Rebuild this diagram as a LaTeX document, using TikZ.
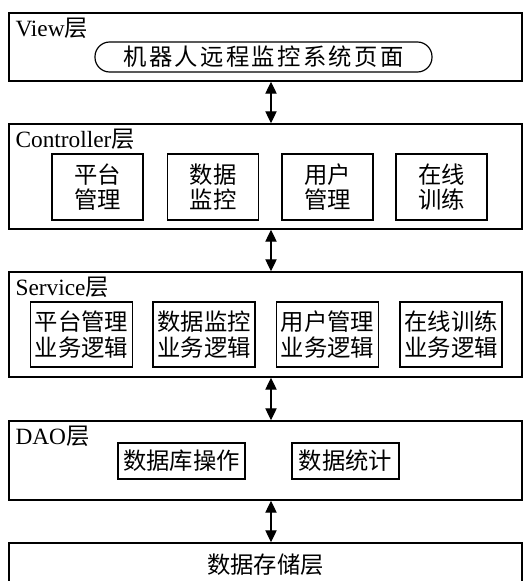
\documentclass[tikz,border=0pt]{standalone}
\usepackage{fontspec}
\setmainfont{Liberation Serif}
\newfontfamily\cjk{Noto Sans CJK SC}
\newfontfamily\cjkwide[LetterSpace=10]{Noto Sans CJK SC}
\usetikzlibrary{arrows.meta,positioning,calc}
\newcommand{\zh}[1]{{\cjk #1}}
\tikzset{
  layer/.style={draw=black,line width=1.1pt,minimum width=384.75pt,inner sep=0pt},
  part/.style={draw=black,line width=0.9pt,align=center,inner sep=0pt,font=\fontsize{17.5}{19}\selectfont\cjk},
  tag/.style={anchor=base west,inner sep=0pt,font=\fontsize{17.5}{21}\selectfont},
  link/.style={{Triangle[length=9pt,width=8.5pt]}-{Triangle[length=9pt,width=8.5pt]},line width=0.9pt}
}
\begin{document}
\begin{tikzpicture}[x=0.75pt,y=-0.75pt]
\useasboundingbox (0,0) rectangle (528,581);
% layers
\node[layer,minimum height=51pt] (view) at (265.5,47) {};
\node[layer,minimum height=78.75pt] (ctrl) at (265.5,176.5) {};
\node[layer,minimum height=78.75pt] (serv) at (265.5,324.5) {};
\node[layer,minimum height=59.25pt] (dao) at (265.5,460.5) {};
\node[layer,minimum height=33pt,font=\fontsize{17.5}{21}\selectfont\cjk] (store) at (265.5,565) {数据存储层};
\node[tag] (viewtag) at ($(view.north west)+(7,24)$) {View\zh{层}};
\node[tag] (ctrltag) at ($(ctrl.north west)+(7,24)$) {Controller\zh{层}};
\node[tag] (servtag) at ($(serv.north west)+(7,24)$) {Service\zh{层}};
\node[tag] (daotag) at ($(dao.north west)+(7,24)$) {DAO\zh{层}};
% view
\node[draw=black,line width=0.9pt,rounded corners=11pt,minimum width=252.75pt,minimum height=22.5pt,inner sep=0pt,font=\fontsize{17.5}{21}\selectfont\cjkwide] (page) at (263.5,57) {机器人远程监控系统页面};
% controller
\node[part,minimum width=68.25pt,minimum height=49.5pt] (c1) at (97.5,187) {平台\\管理};
\node[part,minimum width=68.25pt,minimum height=49.5pt] (c2) at (213,187) {数据\\监控};
\node[part,minimum width=68.25pt,minimum height=49.5pt] (c3) at (327.5,187) {用户\\管理};
\node[part,minimum width=68.25pt,minimum height=49.5pt] (c4) at (441.5,187) {在线\\训练};
% service
\node[part,minimum width=76.5pt,minimum height=48.75pt] (s1) at (81.5,334.5) {平台管理\\业务逻辑};
\node[part,minimum width=76.5pt,minimum height=48.75pt] (s2) at (204,334.5) {数据监控\\业务逻辑};
\node[part,minimum width=76.5pt,minimum height=48.75pt] (s3) at (327.5,334.5) {用户管理\\业务逻辑};
\node[part,minimum width=76.5pt,minimum height=48.75pt] (s4) at (451,334.5) {在线训练\\业务逻辑};
% dao
\node[part,minimum width=95.25pt,minimum height=27pt] (d1) at (181.5,461) {数据库操作};
\node[part,minimum width=80.25pt,minimum height=27pt] (d2) at (345.5,461) {数据统计};
% links
\coordinate (axis) at (271,0);
\draw[link] (view.south -| axis) -- (ctrl.north -| axis);
\draw[link] (ctrl.south -| axis) -- (serv.north -| axis);
\draw[link] (serv.south -| axis) -- (dao.north -| axis);
\draw[link] (dao.south -| axis) -- (store.north -| axis);
\end{tikzpicture}
\end{document}
